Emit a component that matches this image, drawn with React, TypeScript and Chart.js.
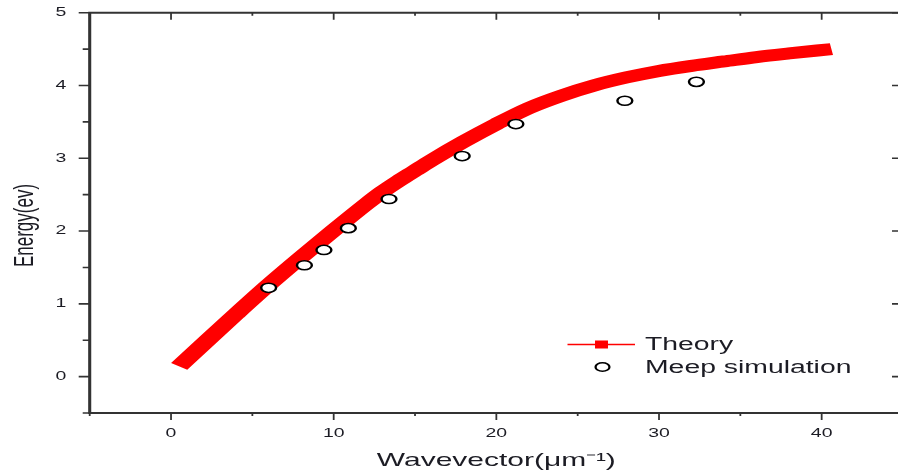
import React, { useEffect, useRef } from 'react';
import { Chart, registerables } from 'chart.js';

Chart.register(...registerables);

// ---- data ----
const theoryK = [0.5, 2, 4, 6, 8, 10, 12, 13, 14, 15, 16, 18, 20, 22, 24, 26, 28, 30, 32, 34, 36, 38, 40.6];
const theoryE = [0.14, 0.45, 0.86, 1.26, 1.64, 2.01, 2.37, 2.54, 2.69, 2.83, 2.97, 3.23, 3.47, 3.69, 3.86, 4.0, 4.11, 4.2, 4.27, 4.33, 4.39, 4.44, 4.5];
const meepK = [6.0, 8.2, 9.4, 10.9, 13.4, 17.9, 21.2, 27.9, 32.3];
const meepE = [1.22, 1.53, 1.74, 2.04, 2.44, 3.03, 3.47, 3.79, 4.05];
const xMajorTicks = [0, 10, 20, 30, 40];
const yMajorTicks = [0, 1, 2, 3, 4, 5];
const xTitle = 'Wavevector(\u03BCm\u207B\u00B9)';
const yTitle = 'Energy(ev)';
const legendLabels = ['Theory', 'Meep simulation'];

// ---- layout ----
const SX = 1.62; // horizontal stretch of the reference picture
const PAGE_W = 898;
const H = 473;
const LW = 572; // logical (unstretched) canvas width
const FULL_W = Math.ceil(LW * SX);
const TARGET = { left: 89.7 / SX, right: 903 / SX, top: 12.7, bottom: 413 };
const FONT = "'Liberation Sans', Arial, Helvetica, sans-serif";
const TEXT = '#1c1c24';
const AXIS = '#333333';
const RED = '#ff0000';

const stretchPlugin = {
  id: 'stretch',
  afterInit(chart: any) {
    chart.canvas.width = FULL_W;
    chart.canvas.height = H;
  },
  beforeDraw(chart: any) {
    chart.ctx.setTransform(SX, 0, 0, 1, 0, 0);
  },
  afterDraw(chart: any) {
    const ctx = chart.ctx as CanvasRenderingContext2D;
    const a = chart.chartArea;
    const xs = chart.scales.x;
    const ys = chart.scales.y;
    ctx.save();
    ctx.setTransform(SX, 0, 0, 1, 0, 0);
    ctx.strokeStyle = AXIS;
    ctx.lineCap = 'butt';

    // frame
    ctx.lineWidth = 1.9;
    ctx.beginPath();
    ctx.moveTo(a.left, a.top);
    ctx.lineTo(a.right, a.top);
    ctx.moveTo(a.left, a.bottom);
    ctx.lineTo(a.right, a.bottom);
    ctx.moveTo(a.left, a.top - 0.9);
    ctx.lineTo(a.left, a.bottom + 0.9);
    ctx.moveTo(a.right, a.top - 0.9);
    ctx.lineTo(a.right, a.bottom + 0.9);
    ctx.stroke();

    // x ticks
    ctx.lineWidth = 1.1;
    ctx.beginPath();
    for (let v = -5; v <= 45; v += 5) {
      const px = xs.getPixelForValue(v);
      const major = xMajorTicks.includes(v);
      const len = major ? 7 : 3;
      ctx.moveTo(px, a.bottom);
      ctx.lineTo(px, a.bottom + len);
      ctx.moveTo(px, a.top);
      ctx.lineTo(px, a.top + len);
    }
    ctx.stroke();

    // y ticks
    ctx.lineWidth = 1.6;
    ctx.beginPath();
    for (let i = 0; i <= 11; i++) {
      const v = -0.5 + i * 0.5;
      const py = ys.getPixelForValue(v);
      const major = yMajorTicks.includes(v);
      const lenL = (major ? 11 : 7) / SX;
      ctx.moveTo(a.left - lenL, py);
      ctx.lineTo(a.left, py);
      if (major) {
        ctx.moveTo(a.right - 11 / SX, py);
        ctx.lineTo(a.right, py);
      }
    }
    ctx.stroke();

    // y title
    ctx.save();
    ctx.fillStyle = TEXT;
    ctx.font = `17px ${FONT}`;
    ctx.textAlign = 'center';
    ctx.textBaseline = 'alphabetic';
    ctx.translate(33 / SX, 225.5);
    ctx.rotate(-Math.PI / 2);
    ctx.fillText(yTitle, 0, 0);
    ctx.restore();

    // legend
    ctx.strokeStyle = RED;
    ctx.lineWidth = 1.3;
    ctx.beginPath();
    ctx.moveTo(567.5 / SX, 344.5);
    ctx.lineTo(635 / SX, 344.5);
    ctx.stroke();
    ctx.fillStyle = RED;
    ctx.fillRect(601.5 / SX - 4, 340.5, 8, 8);

    ctx.beginPath();
    ctx.arc(602.5 / SX, 367, 4.3, 0, Math.PI * 2);
    ctx.fillStyle = '#ffffff';
    ctx.fill();
    ctx.strokeStyle = '#000000';
    ctx.lineWidth = 1.4;
    ctx.stroke();

    ctx.fillStyle = TEXT;
    ctx.font = `17.5px ${FONT}`;
    ctx.textAlign = 'left';
    ctx.textBaseline = 'alphabetic';
    ctx.fillText(legendLabels[0], 645 / SX, 350);
    ctx.fillText(legendLabels[1], 645 / SX, 372.5);

    ctx.restore();
  },
};

export default function App() {
  const ref = useRef<HTMLCanvasElement | null>(null);

  useEffect(() => {
    const canvas = ref.current;
    if (!canvas) return;
    canvas.width = LW;
    canvas.height = H;

    const dims = { yw: TARGET.left, xh: H - TARGET.bottom };
    const pad = { top: TARGET.top, right: LW - TARGET.right, bottom: 0, left: 0 };

    const chart = new Chart(canvas, {
      type: 'scatter',
      data: {
        datasets: [
          {
            label: legendLabels[1],
            data: meepK.map((x, i) => ({ x, y: meepE[i] })),
            showLine: false,
            pointStyle: 'circle',
            pointRadius: 4.6,
            pointBorderWidth: 1.5,
            pointBackgroundColor: '#ffffff',
            pointBorderColor: '#000000',
            order: 0,
          },
          {
            label: legendLabels[0],
            data: theoryK.map((x, i) => ({ x, y: theoryE[i] })),
            showLine: true,
            borderColor: RED,
            backgroundColor: RED,
            borderWidth: 12,
            borderCapStyle: 'butt',
            borderJoinStyle: 'round',
            cubicInterpolationMode: 'monotone',
            pointRadius: 0,
            fill: false,
            order: 1,
          },
        ],
      } as any,
      options: {
        responsive: false,
        animation: false,
        devicePixelRatio: 1,
        events: [],
        layout: { padding: { ...pad } },
        plugins: {
          legend: { display: false },
          tooltip: { enabled: false },
        },
        scales: {
          x: {
            type: 'linear',
            position: 'bottom',
            min: -5,
            max: 45,
            afterFit: (s: any) => {
              s.height = dims.xh;
              s.paddingLeft = 0;
              s.paddingRight = 0;
            },
            grid: { display: false, drawTicks: false },
            border: { display: false },
            ticks: {
              stepSize: 5,
              autoSkip: false,
              maxRotation: 0,
              padding: 13.5,
              color: TEXT,
              font: { family: FONT, size: 12 },
              callback: (v: any) => (xMajorTicks.includes(Number(v)) ? String(v) : ''),
            },
            title: {
              display: true,
              text: xTitle,
              color: TEXT,
              font: { family: FONT, size: 18.5 },
              padding: { top: 0, bottom: 0.5 },
            },
          },
          y: {
            type: 'linear',
            position: 'left',
            min: -0.5,
            max: 5,
            afterFit: (s: any) => {
              s.width = dims.yw;
              s.paddingTop = 0;
              s.paddingBottom = 0;
            },
            grid: { display: false, drawTicks: false },
            border: { display: false },
            ticks: {
              stepSize: 0.5,
              autoSkip: false,
              padding: 14.5,
              color: TEXT,
              font: { family: FONT, size: 12 },
              callback: (v: any) => (yMajorTicks.includes(Number(v)) ? String(v) : ''),
            },
          },
        },
      } as any,
      plugins: [stretchPlugin],
    });

    // nudge the layout so the plot area lands exactly where the reference has it
    for (let k = 0; k < 4; k++) {
      const ca = chart.chartArea;
      const dl = ca.left - TARGET.left;
      const dr = ca.right - TARGET.right;
      const dt = ca.top - TARGET.top;
      const db = ca.bottom - TARGET.bottom;
      if (Math.abs(dl) + Math.abs(dr) + Math.abs(dt) + Math.abs(db) < 0.05) break;
      dims.yw -= dl;
      pad.right += dr;
      pad.top -= dt;
      dims.xh += db;
      (chart.options as any).layout.padding = { ...pad };
      chart.update();
    }

    return () => {
      chart.destroy();
    };
  }, []);

  return (
    <div
      style={{
        position: 'fixed',
        left: 0,
        top: 0,
        width: PAGE_W,
        height: H,
        overflow: 'hidden',
        background: '#ffffff',
      }}
    >
      <canvas ref={ref} style={{ display: 'block', width: `${FULL_W}px`, height: `${H}px` }} />
    </div>
  );
}
